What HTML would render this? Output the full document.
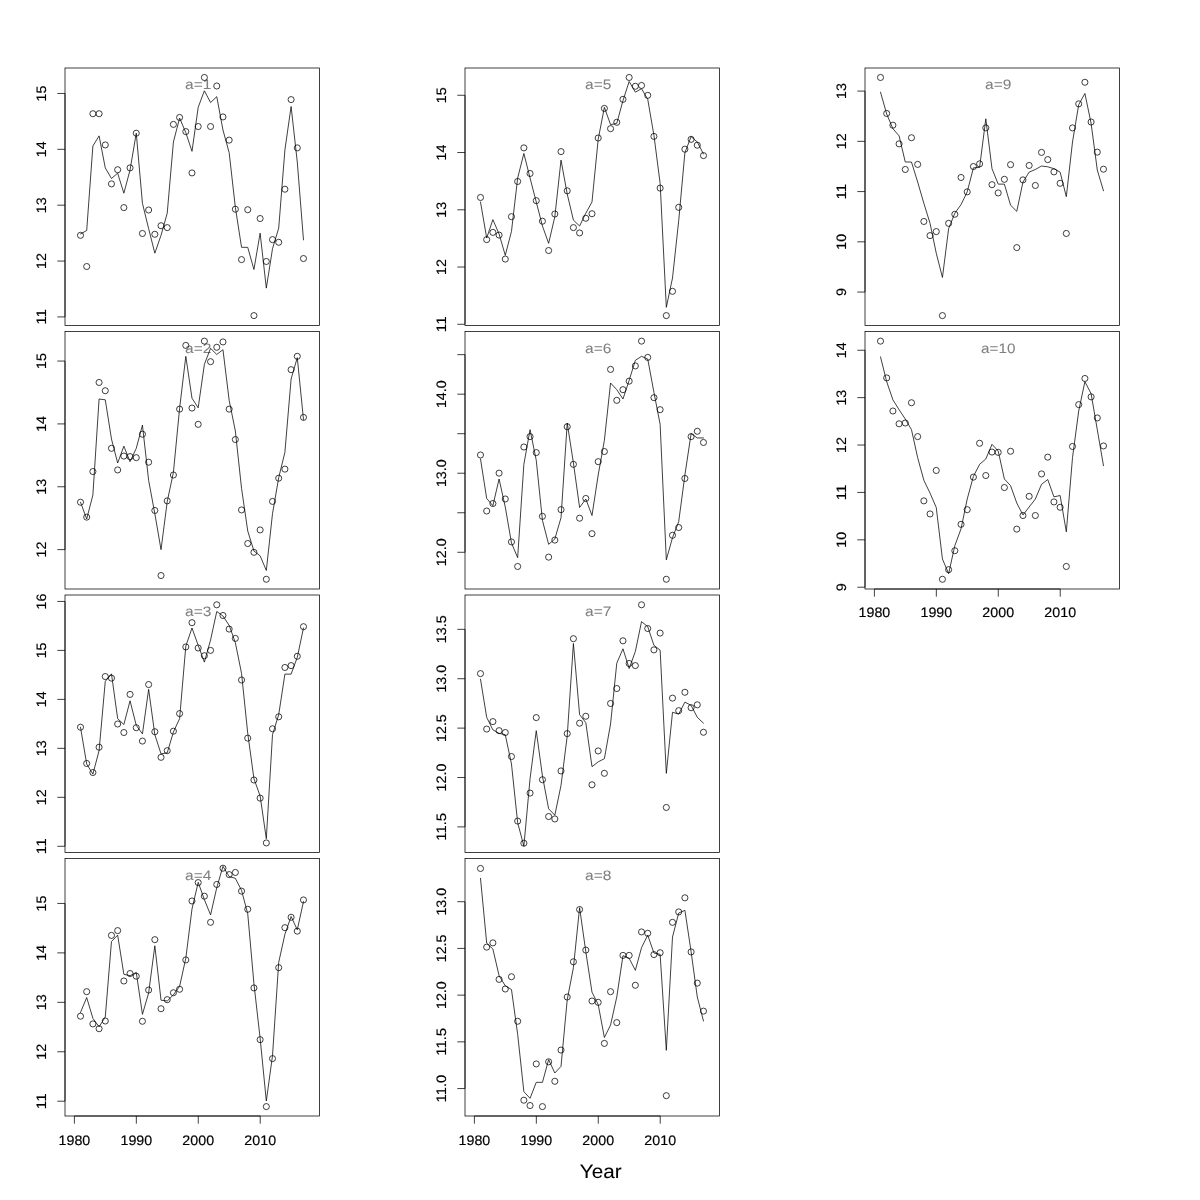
<!DOCTYPE html>
<html><head><meta charset="utf-8"><title>plot</title>
<style>
html,body{margin:0;padding:0;background:#fff;}
svg{display:block;will-change:transform;filter:grayscale(1);}
text{font-family:"Liberation Sans",sans-serif;fill:#000;text-rendering:geometricPrecision;stroke:#000;stroke-width:0.15px;}
.t{font-size:13.70px;}
.g{fill:#7f7f7f;stroke:#7f7f7f;stroke-width:0.04px;}
.p{fill:none;stroke:#000;stroke-width:0.75;}
.l{fill:none;stroke:#000;stroke-width:0.75;stroke-linejoin:round;stroke-linecap:round;}
.b{fill:none;stroke:#000;stroke-width:0.75;}
.a{fill:none;stroke:#000;stroke-width:0.75;}
</style></head><body>

<svg width="1200" height="1200" viewBox="0 0 1200 1200">
<rect width="1200" height="1200" fill="#fff"/>
<g>
<rect class="b" x="65.00" y="68.00" width="254.50" height="257.50"/>
<path class="a" d="M65.00 93.46V316.92M65.00 93.46H57.32M65.00 149.32H57.32M65.00 205.19H57.32M65.00 261.06H57.32M65.00 316.92H57.32"/>
<text class="t" text-anchor="middle" textLength="15.9" lengthAdjust="spacingAndGlyphs" transform="translate(45.50 93.46) rotate(-90)">15</text>
<text class="t" text-anchor="middle" textLength="15.9" lengthAdjust="spacingAndGlyphs" transform="translate(45.50 149.32) rotate(-90)">14</text>
<text class="t" text-anchor="middle" textLength="15.9" lengthAdjust="spacingAndGlyphs" transform="translate(45.50 205.19) rotate(-90)">13</text>
<text class="t" text-anchor="middle" textLength="15.9" lengthAdjust="spacingAndGlyphs" transform="translate(45.50 261.06) rotate(-90)">12</text>
<text class="t" text-anchor="middle" textLength="15.9" lengthAdjust="spacingAndGlyphs" transform="translate(45.50 316.92) rotate(-90)">11</text>
<text class="t g" text-anchor="middle" textLength="26.3" lengthAdjust="spacingAndGlyphs" x="198.28" y="88.80">a=1</text>
<polyline class="l" points="80.50,234.00 86.69,230.53 92.89,146.00 99.08,135.87 105.28,167.87 111.47,178.53 117.66,173.20 123.86,193.20 130.05,170.00 136.25,133.20 142.44,203.33 148.63,228.67 154.83,253.20 161.02,235.33 167.22,213.20 173.41,142.00 179.60,118.00 185.80,132.67 191.99,151.33 198.19,107.33 204.38,90.80 210.57,102.53 216.77,96.67 222.96,130.00 229.16,152.67 235.35,207.33 241.54,247.33 247.74,247.33 253.93,269.47 260.13,233.20 266.32,288.13 272.51,248.67 278.71,228.13 284.90,150.00 291.10,106.53 297.29,162.00 303.48,239.87"/>
<path class="p" d="M77.45 235.33a3.05 3.05 0 1 0 6.10 0a3.05 3.05 0 1 0 -6.10 0M83.64 266.53a3.05 3.05 0 1 0 6.10 0a3.05 3.05 0 1 0 -6.10 0M89.84 113.73a3.05 3.05 0 1 0 6.10 0a3.05 3.05 0 1 0 -6.10 0M96.03 113.73a3.05 3.05 0 1 0 6.10 0a3.05 3.05 0 1 0 -6.10 0M102.23 144.93a3.05 3.05 0 1 0 6.10 0a3.05 3.05 0 1 0 -6.10 0M108.42 183.87a3.05 3.05 0 1 0 6.10 0a3.05 3.05 0 1 0 -6.10 0M114.61 169.73a3.05 3.05 0 1 0 6.10 0a3.05 3.05 0 1 0 -6.10 0M120.81 207.60a3.05 3.05 0 1 0 6.10 0a3.05 3.05 0 1 0 -6.10 0M127.00 167.87a3.05 3.05 0 1 0 6.10 0a3.05 3.05 0 1 0 -6.10 0M133.20 133.20a3.05 3.05 0 1 0 6.10 0a3.05 3.05 0 1 0 -6.10 0M139.39 233.47a3.05 3.05 0 1 0 6.10 0a3.05 3.05 0 1 0 -6.10 0M145.58 210.00a3.05 3.05 0 1 0 6.10 0a3.05 3.05 0 1 0 -6.10 0M151.78 234.27a3.05 3.05 0 1 0 6.10 0a3.05 3.05 0 1 0 -6.10 0M157.97 225.73a3.05 3.05 0 1 0 6.10 0a3.05 3.05 0 1 0 -6.10 0M164.17 227.60a3.05 3.05 0 1 0 6.10 0a3.05 3.05 0 1 0 -6.10 0M170.36 124.40a3.05 3.05 0 1 0 6.10 0a3.05 3.05 0 1 0 -6.10 0M176.55 117.47a3.05 3.05 0 1 0 6.10 0a3.05 3.05 0 1 0 -6.10 0M182.75 131.60a3.05 3.05 0 1 0 6.10 0a3.05 3.05 0 1 0 -6.10 0M188.94 172.93a3.05 3.05 0 1 0 6.10 0a3.05 3.05 0 1 0 -6.10 0M195.14 126.53a3.05 3.05 0 1 0 6.10 0a3.05 3.05 0 1 0 -6.10 0M201.33 77.47a3.05 3.05 0 1 0 6.10 0a3.05 3.05 0 1 0 -6.10 0M207.52 126.53a3.05 3.05 0 1 0 6.10 0a3.05 3.05 0 1 0 -6.10 0M213.72 86.00a3.05 3.05 0 1 0 6.10 0a3.05 3.05 0 1 0 -6.10 0M219.91 116.93a3.05 3.05 0 1 0 6.10 0a3.05 3.05 0 1 0 -6.10 0M226.11 140.13a3.05 3.05 0 1 0 6.10 0a3.05 3.05 0 1 0 -6.10 0M232.30 209.20a3.05 3.05 0 1 0 6.10 0a3.05 3.05 0 1 0 -6.10 0M238.49 259.60a3.05 3.05 0 1 0 6.10 0a3.05 3.05 0 1 0 -6.10 0M244.69 209.73a3.05 3.05 0 1 0 6.10 0a3.05 3.05 0 1 0 -6.10 0M250.88 315.60a3.05 3.05 0 1 0 6.10 0a3.05 3.05 0 1 0 -6.10 0M257.08 218.53a3.05 3.05 0 1 0 6.10 0a3.05 3.05 0 1 0 -6.10 0M263.27 261.47a3.05 3.05 0 1 0 6.10 0a3.05 3.05 0 1 0 -6.10 0M269.46 239.60a3.05 3.05 0 1 0 6.10 0a3.05 3.05 0 1 0 -6.10 0M275.66 242.27a3.05 3.05 0 1 0 6.10 0a3.05 3.05 0 1 0 -6.10 0M281.85 189.20a3.05 3.05 0 1 0 6.10 0a3.05 3.05 0 1 0 -6.10 0M288.05 99.60a3.05 3.05 0 1 0 6.10 0a3.05 3.05 0 1 0 -6.10 0M294.24 147.87a3.05 3.05 0 1 0 6.10 0a3.05 3.05 0 1 0 -6.10 0M300.43 258.53a3.05 3.05 0 1 0 6.10 0a3.05 3.05 0 1 0 -6.10 0"/>
</g>
<g>
<rect class="b" x="65.00" y="331.50" width="254.50" height="257.50"/>
<path class="a" d="M65.00 361.05V549.61M65.00 361.05H57.32M65.00 423.91H57.32M65.00 486.76H57.32M65.00 549.61H57.32"/>
<text class="t" text-anchor="middle" textLength="15.9" lengthAdjust="spacingAndGlyphs" transform="translate(45.50 361.05) rotate(-90)">15</text>
<text class="t" text-anchor="middle" textLength="15.9" lengthAdjust="spacingAndGlyphs" transform="translate(45.50 423.91) rotate(-90)">14</text>
<text class="t" text-anchor="middle" textLength="15.9" lengthAdjust="spacingAndGlyphs" transform="translate(45.50 486.76) rotate(-90)">13</text>
<text class="t" text-anchor="middle" textLength="15.9" lengthAdjust="spacingAndGlyphs" transform="translate(45.50 549.61) rotate(-90)">12</text>
<text class="t g" text-anchor="middle" textLength="26.3" lengthAdjust="spacingAndGlyphs" x="198.28" y="352.90">a=2</text>
<polyline class="l" points="80.50,502.20 86.69,519.00 92.89,495.00 99.08,399.00 105.28,399.80 111.47,439.00 117.66,463.00 123.86,446.20 130.05,461.67 136.25,448.33 142.44,425.13 148.63,480.33 154.83,513.67 161.02,549.67 167.22,501.67 173.41,472.33 179.60,408.33 185.80,356.33 191.99,398.20 198.19,407.80 204.38,364.33 210.57,348.33 216.77,354.47 222.96,349.67 229.16,400.33 235.35,431.00 241.54,488.33 247.74,531.00 253.93,551.00 260.13,555.80 266.32,570.47 272.51,513.67 278.71,477.67 284.90,452.33 291.10,379.00 297.29,357.67 303.48,419.53"/>
<path class="p" d="M77.45 502.20a3.05 3.05 0 1 0 6.10 0a3.05 3.05 0 1 0 -6.10 0M83.64 517.13a3.05 3.05 0 1 0 6.10 0a3.05 3.05 0 1 0 -6.10 0M89.84 471.53a3.05 3.05 0 1 0 6.10 0a3.05 3.05 0 1 0 -6.10 0M96.03 382.47a3.05 3.05 0 1 0 6.10 0a3.05 3.05 0 1 0 -6.10 0M102.23 390.73a3.05 3.05 0 1 0 6.10 0a3.05 3.05 0 1 0 -6.10 0M108.42 448.33a3.05 3.05 0 1 0 6.10 0a3.05 3.05 0 1 0 -6.10 0M114.61 469.93a3.05 3.05 0 1 0 6.10 0a3.05 3.05 0 1 0 -6.10 0M120.81 456.07a3.05 3.05 0 1 0 6.10 0a3.05 3.05 0 1 0 -6.10 0M127.00 456.60a3.05 3.05 0 1 0 6.10 0a3.05 3.05 0 1 0 -6.10 0M133.20 457.67a3.05 3.05 0 1 0 6.10 0a3.05 3.05 0 1 0 -6.10 0M139.39 434.20a3.05 3.05 0 1 0 6.10 0a3.05 3.05 0 1 0 -6.10 0M145.58 462.20a3.05 3.05 0 1 0 6.10 0a3.05 3.05 0 1 0 -6.10 0M151.78 510.47a3.05 3.05 0 1 0 6.10 0a3.05 3.05 0 1 0 -6.10 0M157.97 575.53a3.05 3.05 0 1 0 6.10 0a3.05 3.05 0 1 0 -6.10 0M164.17 500.87a3.05 3.05 0 1 0 6.10 0a3.05 3.05 0 1 0 -6.10 0M170.36 475.00a3.05 3.05 0 1 0 6.10 0a3.05 3.05 0 1 0 -6.10 0M176.55 409.13a3.05 3.05 0 1 0 6.10 0a3.05 3.05 0 1 0 -6.10 0M182.75 345.40a3.05 3.05 0 1 0 6.10 0a3.05 3.05 0 1 0 -6.10 0M188.94 408.07a3.05 3.05 0 1 0 6.10 0a3.05 3.05 0 1 0 -6.10 0M195.14 424.33a3.05 3.05 0 1 0 6.10 0a3.05 3.05 0 1 0 -6.10 0M201.33 341.13a3.05 3.05 0 1 0 6.10 0a3.05 3.05 0 1 0 -6.10 0M207.52 361.67a3.05 3.05 0 1 0 6.10 0a3.05 3.05 0 1 0 -6.10 0M213.72 347.27a3.05 3.05 0 1 0 6.10 0a3.05 3.05 0 1 0 -6.10 0M219.91 341.93a3.05 3.05 0 1 0 6.10 0a3.05 3.05 0 1 0 -6.10 0M226.11 409.13a3.05 3.05 0 1 0 6.10 0a3.05 3.05 0 1 0 -6.10 0M232.30 439.53a3.05 3.05 0 1 0 6.10 0a3.05 3.05 0 1 0 -6.10 0M238.49 509.93a3.05 3.05 0 1 0 6.10 0a3.05 3.05 0 1 0 -6.10 0M244.69 543.53a3.05 3.05 0 1 0 6.10 0a3.05 3.05 0 1 0 -6.10 0M250.88 552.33a3.05 3.05 0 1 0 6.10 0a3.05 3.05 0 1 0 -6.10 0M257.08 529.93a3.05 3.05 0 1 0 6.10 0a3.05 3.05 0 1 0 -6.10 0M263.27 579.27a3.05 3.05 0 1 0 6.10 0a3.05 3.05 0 1 0 -6.10 0M269.46 501.40a3.05 3.05 0 1 0 6.10 0a3.05 3.05 0 1 0 -6.10 0M275.66 478.20a3.05 3.05 0 1 0 6.10 0a3.05 3.05 0 1 0 -6.10 0M281.85 469.13a3.05 3.05 0 1 0 6.10 0a3.05 3.05 0 1 0 -6.10 0M288.05 369.67a3.05 3.05 0 1 0 6.10 0a3.05 3.05 0 1 0 -6.10 0M294.24 356.33a3.05 3.05 0 1 0 6.10 0a3.05 3.05 0 1 0 -6.10 0M300.43 417.40a3.05 3.05 0 1 0 6.10 0a3.05 3.05 0 1 0 -6.10 0"/>
</g>
<g>
<rect class="b" x="65.00" y="595.00" width="254.50" height="257.50"/>
<path class="a" d="M65.00 601.45V846.29M65.00 601.45H57.32M65.00 650.42H57.32M65.00 699.38H57.32M65.00 748.35H57.32M65.00 797.32H57.32M65.00 846.29H57.32"/>
<text class="t" text-anchor="middle" textLength="15.9" lengthAdjust="spacingAndGlyphs" transform="translate(45.50 601.45) rotate(-90)">16</text>
<text class="t" text-anchor="middle" textLength="15.9" lengthAdjust="spacingAndGlyphs" transform="translate(45.50 650.42) rotate(-90)">15</text>
<text class="t" text-anchor="middle" textLength="15.9" lengthAdjust="spacingAndGlyphs" transform="translate(45.50 699.38) rotate(-90)">14</text>
<text class="t" text-anchor="middle" textLength="15.9" lengthAdjust="spacingAndGlyphs" transform="translate(45.50 748.35) rotate(-90)">13</text>
<text class="t" text-anchor="middle" textLength="15.9" lengthAdjust="spacingAndGlyphs" transform="translate(45.50 797.32) rotate(-90)">12</text>
<text class="t" text-anchor="middle" textLength="15.9" lengthAdjust="spacingAndGlyphs" transform="translate(45.50 846.29) rotate(-90)">11</text>
<text class="t g" text-anchor="middle" textLength="26.3" lengthAdjust="spacingAndGlyphs" x="198.28" y="615.80">a=3</text>
<polyline class="l" points="80.50,727.20 86.69,764.00 92.89,774.13 99.08,750.67 105.28,681.33 111.47,673.87 117.66,718.67 123.86,724.53 130.05,700.80 136.25,725.33 142.44,733.87 148.63,689.33 154.83,734.67 161.02,753.87 167.22,752.80 173.41,732.00 179.60,718.67 185.80,646.13 191.99,628.00 198.19,645.33 204.38,662.13 210.57,640.00 216.77,611.47 222.96,616.00 229.16,625.33 235.35,642.67 241.54,673.33 247.74,733.33 253.93,778.67 260.13,796.00 266.32,838.67 272.51,734.67 278.71,714.67 284.90,674.13 291.10,674.13 297.29,657.33 303.48,628.00"/>
<path class="p" d="M77.45 727.20a3.05 3.05 0 1 0 6.10 0a3.05 3.05 0 1 0 -6.10 0M83.64 763.47a3.05 3.05 0 1 0 6.10 0a3.05 3.05 0 1 0 -6.10 0M89.84 772.53a3.05 3.05 0 1 0 6.10 0a3.05 3.05 0 1 0 -6.10 0M96.03 747.20a3.05 3.05 0 1 0 6.10 0a3.05 3.05 0 1 0 -6.10 0M102.23 676.53a3.05 3.05 0 1 0 6.10 0a3.05 3.05 0 1 0 -6.10 0M108.42 678.13a3.05 3.05 0 1 0 6.10 0a3.05 3.05 0 1 0 -6.10 0M114.61 724.00a3.05 3.05 0 1 0 6.10 0a3.05 3.05 0 1 0 -6.10 0M120.81 732.53a3.05 3.05 0 1 0 6.10 0a3.05 3.05 0 1 0 -6.10 0M127.00 694.40a3.05 3.05 0 1 0 6.10 0a3.05 3.05 0 1 0 -6.10 0M133.20 727.73a3.05 3.05 0 1 0 6.10 0a3.05 3.05 0 1 0 -6.10 0M139.39 741.07a3.05 3.05 0 1 0 6.10 0a3.05 3.05 0 1 0 -6.10 0M145.58 684.53a3.05 3.05 0 1 0 6.10 0a3.05 3.05 0 1 0 -6.10 0M151.78 731.73a3.05 3.05 0 1 0 6.10 0a3.05 3.05 0 1 0 -6.10 0M157.97 757.33a3.05 3.05 0 1 0 6.10 0a3.05 3.05 0 1 0 -6.10 0M164.17 750.67a3.05 3.05 0 1 0 6.10 0a3.05 3.05 0 1 0 -6.10 0M170.36 731.20a3.05 3.05 0 1 0 6.10 0a3.05 3.05 0 1 0 -6.10 0M176.55 713.60a3.05 3.05 0 1 0 6.10 0a3.05 3.05 0 1 0 -6.10 0M182.75 646.93a3.05 3.05 0 1 0 6.10 0a3.05 3.05 0 1 0 -6.10 0M188.94 622.67a3.05 3.05 0 1 0 6.10 0a3.05 3.05 0 1 0 -6.10 0M195.14 648.00a3.05 3.05 0 1 0 6.10 0a3.05 3.05 0 1 0 -6.10 0M201.33 655.73a3.05 3.05 0 1 0 6.10 0a3.05 3.05 0 1 0 -6.10 0M207.52 650.40a3.05 3.05 0 1 0 6.10 0a3.05 3.05 0 1 0 -6.10 0M213.72 604.80a3.05 3.05 0 1 0 6.10 0a3.05 3.05 0 1 0 -6.10 0M219.91 615.47a3.05 3.05 0 1 0 6.10 0a3.05 3.05 0 1 0 -6.10 0M226.11 629.07a3.05 3.05 0 1 0 6.10 0a3.05 3.05 0 1 0 -6.10 0M232.30 638.40a3.05 3.05 0 1 0 6.10 0a3.05 3.05 0 1 0 -6.10 0M238.49 680.00a3.05 3.05 0 1 0 6.10 0a3.05 3.05 0 1 0 -6.10 0M244.69 738.13a3.05 3.05 0 1 0 6.10 0a3.05 3.05 0 1 0 -6.10 0M250.88 780.00a3.05 3.05 0 1 0 6.10 0a3.05 3.05 0 1 0 -6.10 0M257.08 798.13a3.05 3.05 0 1 0 6.10 0a3.05 3.05 0 1 0 -6.10 0M263.27 842.93a3.05 3.05 0 1 0 6.10 0a3.05 3.05 0 1 0 -6.10 0M269.46 728.80a3.05 3.05 0 1 0 6.10 0a3.05 3.05 0 1 0 -6.10 0M275.66 716.80a3.05 3.05 0 1 0 6.10 0a3.05 3.05 0 1 0 -6.10 0M281.85 667.47a3.05 3.05 0 1 0 6.10 0a3.05 3.05 0 1 0 -6.10 0M288.05 665.60a3.05 3.05 0 1 0 6.10 0a3.05 3.05 0 1 0 -6.10 0M294.24 656.27a3.05 3.05 0 1 0 6.10 0a3.05 3.05 0 1 0 -6.10 0M300.43 626.67a3.05 3.05 0 1 0 6.10 0a3.05 3.05 0 1 0 -6.10 0"/>
</g>
<g>
<rect class="b" x="65.00" y="858.50" width="254.50" height="257.50"/>
<path class="a" d="M65.00 903.45V1101.21M65.00 903.45H57.32M65.00 952.89H57.32M65.00 1002.33H57.32M65.00 1051.77H57.32M65.00 1101.21H57.32"/>
<text class="t" text-anchor="middle" textLength="15.9" lengthAdjust="spacingAndGlyphs" transform="translate(45.50 903.45) rotate(-90)">15</text>
<text class="t" text-anchor="middle" textLength="15.9" lengthAdjust="spacingAndGlyphs" transform="translate(45.50 952.89) rotate(-90)">14</text>
<text class="t" text-anchor="middle" textLength="15.9" lengthAdjust="spacingAndGlyphs" transform="translate(45.50 1002.33) rotate(-90)">13</text>
<text class="t" text-anchor="middle" textLength="15.9" lengthAdjust="spacingAndGlyphs" transform="translate(45.50 1051.77) rotate(-90)">12</text>
<text class="t" text-anchor="middle" textLength="15.9" lengthAdjust="spacingAndGlyphs" transform="translate(45.50 1101.21) rotate(-90)">11</text>
<path class="a" d="M74.40 1116.00H260.22M74.40 1116.00V1123.68M136.34 1116.00V1123.68M198.28 1116.00V1123.68M260.22 1116.00V1123.68"/>
<text class="t" text-anchor="middle" textLength="31.8" lengthAdjust="spacingAndGlyphs" x="74.40" y="1144.50">1980</text>
<text class="t" text-anchor="middle" textLength="31.8" lengthAdjust="spacingAndGlyphs" x="136.34" y="1144.50">1990</text>
<text class="t" text-anchor="middle" textLength="31.8" lengthAdjust="spacingAndGlyphs" x="198.28" y="1144.50">2000</text>
<text class="t" text-anchor="middle" textLength="31.8" lengthAdjust="spacingAndGlyphs" x="260.22" y="1144.50">2010</text>
<text class="t g" text-anchor="middle" textLength="26.3" lengthAdjust="spacingAndGlyphs" x="198.28" y="879.90">a=4</text>
<polyline class="l" points="80.50,1012.47 86.69,997.53 92.89,1018.33 99.08,1026.87 105.28,1017.00 111.47,941.53 117.66,935.13 123.86,974.33 130.05,975.67 136.25,972.47 142.44,1014.33 148.63,993.00 154.83,945.80 161.02,1000.20 167.22,1001.00 173.41,994.87 179.60,986.33 185.80,958.33 191.99,909.00 198.19,882.33 204.38,899.67 210.57,914.87 216.77,887.67 222.96,866.33 229.16,876.47 235.35,878.33 241.54,890.33 247.74,913.80 253.93,983.67 260.13,1038.33 266.32,1101.00 272.51,1055.67 278.71,962.33 284.90,934.33 291.10,916.47 297.29,929.80 303.48,901.53"/>
<path class="p" d="M77.45 1016.20a3.05 3.05 0 1 0 6.10 0a3.05 3.05 0 1 0 -6.10 0M83.64 991.67a3.05 3.05 0 1 0 6.10 0a3.05 3.05 0 1 0 -6.10 0M89.84 1023.93a3.05 3.05 0 1 0 6.10 0a3.05 3.05 0 1 0 -6.10 0M96.03 1028.73a3.05 3.05 0 1 0 6.10 0a3.05 3.05 0 1 0 -6.10 0M102.23 1021.00a3.05 3.05 0 1 0 6.10 0a3.05 3.05 0 1 0 -6.10 0M108.42 935.40a3.05 3.05 0 1 0 6.10 0a3.05 3.05 0 1 0 -6.10 0M114.61 930.60a3.05 3.05 0 1 0 6.10 0a3.05 3.05 0 1 0 -6.10 0M120.81 981.00a3.05 3.05 0 1 0 6.10 0a3.05 3.05 0 1 0 -6.10 0M127.00 973.53a3.05 3.05 0 1 0 6.10 0a3.05 3.05 0 1 0 -6.10 0M133.20 976.20a3.05 3.05 0 1 0 6.10 0a3.05 3.05 0 1 0 -6.10 0M139.39 1021.27a3.05 3.05 0 1 0 6.10 0a3.05 3.05 0 1 0 -6.10 0M145.58 990.07a3.05 3.05 0 1 0 6.10 0a3.05 3.05 0 1 0 -6.10 0M151.78 939.67a3.05 3.05 0 1 0 6.10 0a3.05 3.05 0 1 0 -6.10 0M157.97 1008.73a3.05 3.05 0 1 0 6.10 0a3.05 3.05 0 1 0 -6.10 0M164.17 999.67a3.05 3.05 0 1 0 6.10 0a3.05 3.05 0 1 0 -6.10 0M170.36 992.73a3.05 3.05 0 1 0 6.10 0a3.05 3.05 0 1 0 -6.10 0M176.55 989.27a3.05 3.05 0 1 0 6.10 0a3.05 3.05 0 1 0 -6.10 0M182.75 959.93a3.05 3.05 0 1 0 6.10 0a3.05 3.05 0 1 0 -6.10 0M188.94 901.00a3.05 3.05 0 1 0 6.10 0a3.05 3.05 0 1 0 -6.10 0M195.14 882.60a3.05 3.05 0 1 0 6.10 0a3.05 3.05 0 1 0 -6.10 0M201.33 896.20a3.05 3.05 0 1 0 6.10 0a3.05 3.05 0 1 0 -6.10 0M207.52 922.33a3.05 3.05 0 1 0 6.10 0a3.05 3.05 0 1 0 -6.10 0M213.72 884.47a3.05 3.05 0 1 0 6.10 0a3.05 3.05 0 1 0 -6.10 0M219.91 868.20a3.05 3.05 0 1 0 6.10 0a3.05 3.05 0 1 0 -6.10 0M226.11 874.60a3.05 3.05 0 1 0 6.10 0a3.05 3.05 0 1 0 -6.10 0M232.30 872.47a3.05 3.05 0 1 0 6.10 0a3.05 3.05 0 1 0 -6.10 0M238.49 891.13a3.05 3.05 0 1 0 6.10 0a3.05 3.05 0 1 0 -6.10 0M244.69 909.27a3.05 3.05 0 1 0 6.10 0a3.05 3.05 0 1 0 -6.10 0M250.88 987.93a3.05 3.05 0 1 0 6.10 0a3.05 3.05 0 1 0 -6.10 0M257.08 1039.67a3.05 3.05 0 1 0 6.10 0a3.05 3.05 0 1 0 -6.10 0M263.27 1106.60a3.05 3.05 0 1 0 6.10 0a3.05 3.05 0 1 0 -6.10 0M269.46 1058.60a3.05 3.05 0 1 0 6.10 0a3.05 3.05 0 1 0 -6.10 0M275.66 967.67a3.05 3.05 0 1 0 6.10 0a3.05 3.05 0 1 0 -6.10 0M281.85 927.67a3.05 3.05 0 1 0 6.10 0a3.05 3.05 0 1 0 -6.10 0M288.05 917.27a3.05 3.05 0 1 0 6.10 0a3.05 3.05 0 1 0 -6.10 0M294.24 931.13a3.05 3.05 0 1 0 6.10 0a3.05 3.05 0 1 0 -6.10 0M300.43 899.93a3.05 3.05 0 1 0 6.10 0a3.05 3.05 0 1 0 -6.10 0"/>
</g>
<g>
<rect class="b" x="465.00" y="68.00" width="254.50" height="257.50"/>
<path class="a" d="M465.00 95.28V324.29M465.00 95.28H457.32M465.00 152.53H457.32M465.00 209.79H457.32M465.00 267.04H457.32M465.00 324.29H457.32"/>
<text class="t" text-anchor="middle" textLength="15.9" lengthAdjust="spacingAndGlyphs" transform="translate(445.50 95.28) rotate(-90)">15</text>
<text class="t" text-anchor="middle" textLength="15.9" lengthAdjust="spacingAndGlyphs" transform="translate(445.50 152.53) rotate(-90)">14</text>
<text class="t" text-anchor="middle" textLength="15.9" lengthAdjust="spacingAndGlyphs" transform="translate(445.50 209.79) rotate(-90)">13</text>
<text class="t" text-anchor="middle" textLength="15.9" lengthAdjust="spacingAndGlyphs" transform="translate(445.50 267.04) rotate(-90)">12</text>
<text class="t" text-anchor="middle" textLength="15.9" lengthAdjust="spacingAndGlyphs" transform="translate(445.50 324.29) rotate(-90)">11</text>
<text class="t g" text-anchor="middle" textLength="26.3" lengthAdjust="spacingAndGlyphs" x="598.28" y="88.80">a=5</text>
<polyline class="l" points="480.50,202.00 486.69,238.00 492.89,219.60 499.08,234.00 505.28,255.33 511.47,231.33 517.66,178.00 523.86,153.47 530.05,178.00 536.25,202.00 542.44,226.00 548.63,243.33 554.83,216.67 561.02,160.13 567.22,194.00 573.41,220.13 579.60,226.00 585.80,213.20 591.99,202.00 598.19,139.33 604.38,107.33 610.57,124.67 616.77,123.33 622.96,100.67 629.16,81.47 635.35,92.13 641.54,88.67 647.74,99.33 653.93,135.33 660.13,183.33 666.32,307.33 672.51,278.00 678.71,220.67 684.90,152.67 691.10,136.67 697.29,142.00 703.48,154.00"/>
<path class="p" d="M477.45 197.47a3.05 3.05 0 1 0 6.10 0a3.05 3.05 0 1 0 -6.10 0M483.64 239.60a3.05 3.05 0 1 0 6.10 0a3.05 3.05 0 1 0 -6.10 0M489.84 232.40a3.05 3.05 0 1 0 6.10 0a3.05 3.05 0 1 0 -6.10 0M496.03 235.07a3.05 3.05 0 1 0 6.10 0a3.05 3.05 0 1 0 -6.10 0M502.23 259.07a3.05 3.05 0 1 0 6.10 0a3.05 3.05 0 1 0 -6.10 0M508.42 216.67a3.05 3.05 0 1 0 6.10 0a3.05 3.05 0 1 0 -6.10 0M514.61 181.47a3.05 3.05 0 1 0 6.10 0a3.05 3.05 0 1 0 -6.10 0M520.81 147.87a3.05 3.05 0 1 0 6.10 0a3.05 3.05 0 1 0 -6.10 0M527.00 173.47a3.05 3.05 0 1 0 6.10 0a3.05 3.05 0 1 0 -6.10 0M533.20 200.67a3.05 3.05 0 1 0 6.10 0a3.05 3.05 0 1 0 -6.10 0M539.39 221.20a3.05 3.05 0 1 0 6.10 0a3.05 3.05 0 1 0 -6.10 0M545.58 250.53a3.05 3.05 0 1 0 6.10 0a3.05 3.05 0 1 0 -6.10 0M551.78 214.00a3.05 3.05 0 1 0 6.10 0a3.05 3.05 0 1 0 -6.10 0M557.97 151.60a3.05 3.05 0 1 0 6.10 0a3.05 3.05 0 1 0 -6.10 0M564.17 190.80a3.05 3.05 0 1 0 6.10 0a3.05 3.05 0 1 0 -6.10 0M570.36 227.60a3.05 3.05 0 1 0 6.10 0a3.05 3.05 0 1 0 -6.10 0M576.55 232.93a3.05 3.05 0 1 0 6.10 0a3.05 3.05 0 1 0 -6.10 0M582.75 218.27a3.05 3.05 0 1 0 6.10 0a3.05 3.05 0 1 0 -6.10 0M588.94 213.73a3.05 3.05 0 1 0 6.10 0a3.05 3.05 0 1 0 -6.10 0M595.14 138.00a3.05 3.05 0 1 0 6.10 0a3.05 3.05 0 1 0 -6.10 0M601.33 108.40a3.05 3.05 0 1 0 6.10 0a3.05 3.05 0 1 0 -6.10 0M607.52 128.67a3.05 3.05 0 1 0 6.10 0a3.05 3.05 0 1 0 -6.10 0M613.72 122.27a3.05 3.05 0 1 0 6.10 0a3.05 3.05 0 1 0 -6.10 0M619.91 99.33a3.05 3.05 0 1 0 6.10 0a3.05 3.05 0 1 0 -6.10 0M626.11 77.47a3.05 3.05 0 1 0 6.10 0a3.05 3.05 0 1 0 -6.10 0M632.30 86.27a3.05 3.05 0 1 0 6.10 0a3.05 3.05 0 1 0 -6.10 0M638.49 85.47a3.05 3.05 0 1 0 6.10 0a3.05 3.05 0 1 0 -6.10 0M644.69 95.33a3.05 3.05 0 1 0 6.10 0a3.05 3.05 0 1 0 -6.10 0M650.88 136.40a3.05 3.05 0 1 0 6.10 0a3.05 3.05 0 1 0 -6.10 0M657.08 188.13a3.05 3.05 0 1 0 6.10 0a3.05 3.05 0 1 0 -6.10 0M663.27 315.60a3.05 3.05 0 1 0 6.10 0a3.05 3.05 0 1 0 -6.10 0M669.46 291.33a3.05 3.05 0 1 0 6.10 0a3.05 3.05 0 1 0 -6.10 0M675.66 207.33a3.05 3.05 0 1 0 6.10 0a3.05 3.05 0 1 0 -6.10 0M681.85 149.20a3.05 3.05 0 1 0 6.10 0a3.05 3.05 0 1 0 -6.10 0M688.05 139.33a3.05 3.05 0 1 0 6.10 0a3.05 3.05 0 1 0 -6.10 0M694.24 145.20a3.05 3.05 0 1 0 6.10 0a3.05 3.05 0 1 0 -6.10 0M700.43 155.60a3.05 3.05 0 1 0 6.10 0a3.05 3.05 0 1 0 -6.10 0"/>
</g>
<g>
<rect class="b" x="465.00" y="331.50" width="254.50" height="257.50"/>
<path class="a" d="M465.00 354.65V552.29M465.00 354.65H457.32M465.00 394.18H457.32M465.00 433.70H457.32M465.00 473.23H457.32M465.00 512.76H457.32M465.00 552.29H457.32"/>
<text class="t" text-anchor="middle" textLength="27.8" lengthAdjust="spacingAndGlyphs" transform="translate(445.50 394.18) rotate(-90)">14.0</text>
<text class="t" text-anchor="middle" textLength="27.8" lengthAdjust="spacingAndGlyphs" transform="translate(445.50 473.23) rotate(-90)">13.0</text>
<text class="t" text-anchor="middle" textLength="27.8" lengthAdjust="spacingAndGlyphs" transform="translate(445.50 552.29) rotate(-90)">12.0</text>
<text class="t g" text-anchor="middle" textLength="26.3" lengthAdjust="spacingAndGlyphs" x="598.28" y="352.90">a=6</text>
<polyline class="l" points="480.50,459.00 486.69,498.47 492.89,505.67 499.08,479.00 505.28,507.00 511.47,543.00 517.66,557.67 523.86,464.33 530.05,429.67 536.25,460.33 542.44,520.33 548.63,544.33 554.83,539.00 561.02,517.67 567.22,423.00 573.41,463.00 579.60,507.53 585.80,499.00 591.99,515.53 598.19,475.00 604.38,440.33 610.57,383.00 616.77,389.67 622.96,399.00 629.16,380.33 635.35,360.33 641.54,356.33 647.74,359.00 653.93,392.33 660.13,424.33 666.32,559.80 672.51,537.67 678.71,521.67 684.90,475.00 691.10,433.67 697.29,437.93 703.48,437.93"/>
<path class="p" d="M477.45 455.00a3.05 3.05 0 1 0 6.10 0a3.05 3.05 0 1 0 -6.10 0M483.64 511.00a3.05 3.05 0 1 0 6.10 0a3.05 3.05 0 1 0 -6.10 0M489.84 503.53a3.05 3.05 0 1 0 6.10 0a3.05 3.05 0 1 0 -6.10 0M496.03 473.13a3.05 3.05 0 1 0 6.10 0a3.05 3.05 0 1 0 -6.10 0M502.23 499.00a3.05 3.05 0 1 0 6.10 0a3.05 3.05 0 1 0 -6.10 0M508.42 541.93a3.05 3.05 0 1 0 6.10 0a3.05 3.05 0 1 0 -6.10 0M514.61 566.47a3.05 3.05 0 1 0 6.10 0a3.05 3.05 0 1 0 -6.10 0M520.81 447.00a3.05 3.05 0 1 0 6.10 0a3.05 3.05 0 1 0 -6.10 0M527.00 436.60a3.05 3.05 0 1 0 6.10 0a3.05 3.05 0 1 0 -6.10 0M533.20 452.60a3.05 3.05 0 1 0 6.10 0a3.05 3.05 0 1 0 -6.10 0M539.39 516.33a3.05 3.05 0 1 0 6.10 0a3.05 3.05 0 1 0 -6.10 0M545.58 557.13a3.05 3.05 0 1 0 6.10 0a3.05 3.05 0 1 0 -6.10 0M551.78 540.07a3.05 3.05 0 1 0 6.10 0a3.05 3.05 0 1 0 -6.10 0M557.97 509.67a3.05 3.05 0 1 0 6.10 0a3.05 3.05 0 1 0 -6.10 0M564.17 426.73a3.05 3.05 0 1 0 6.10 0a3.05 3.05 0 1 0 -6.10 0M570.36 464.33a3.05 3.05 0 1 0 6.10 0a3.05 3.05 0 1 0 -6.10 0M576.55 518.20a3.05 3.05 0 1 0 6.10 0a3.05 3.05 0 1 0 -6.10 0M582.75 498.47a3.05 3.05 0 1 0 6.10 0a3.05 3.05 0 1 0 -6.10 0M588.94 533.67a3.05 3.05 0 1 0 6.10 0a3.05 3.05 0 1 0 -6.10 0M595.14 461.67a3.05 3.05 0 1 0 6.10 0a3.05 3.05 0 1 0 -6.10 0M601.33 451.53a3.05 3.05 0 1 0 6.10 0a3.05 3.05 0 1 0 -6.10 0M607.52 369.40a3.05 3.05 0 1 0 6.10 0a3.05 3.05 0 1 0 -6.10 0M613.72 400.33a3.05 3.05 0 1 0 6.10 0a3.05 3.05 0 1 0 -6.10 0M619.91 389.67a3.05 3.05 0 1 0 6.10 0a3.05 3.05 0 1 0 -6.10 0M626.11 381.13a3.05 3.05 0 1 0 6.10 0a3.05 3.05 0 1 0 -6.10 0M632.30 365.93a3.05 3.05 0 1 0 6.10 0a3.05 3.05 0 1 0 -6.10 0M638.49 341.13a3.05 3.05 0 1 0 6.10 0a3.05 3.05 0 1 0 -6.10 0M644.69 357.40a3.05 3.05 0 1 0 6.10 0a3.05 3.05 0 1 0 -6.10 0M650.88 397.67a3.05 3.05 0 1 0 6.10 0a3.05 3.05 0 1 0 -6.10 0M657.08 409.67a3.05 3.05 0 1 0 6.10 0a3.05 3.05 0 1 0 -6.10 0M663.27 579.27a3.05 3.05 0 1 0 6.10 0a3.05 3.05 0 1 0 -6.10 0M669.46 535.27a3.05 3.05 0 1 0 6.10 0a3.05 3.05 0 1 0 -6.10 0M675.66 527.53a3.05 3.05 0 1 0 6.10 0a3.05 3.05 0 1 0 -6.10 0M681.85 478.47a3.05 3.05 0 1 0 6.10 0a3.05 3.05 0 1 0 -6.10 0M688.05 436.60a3.05 3.05 0 1 0 6.10 0a3.05 3.05 0 1 0 -6.10 0M694.24 431.27a3.05 3.05 0 1 0 6.10 0a3.05 3.05 0 1 0 -6.10 0M700.43 442.47a3.05 3.05 0 1 0 6.10 0a3.05 3.05 0 1 0 -6.10 0"/>
</g>
<g>
<rect class="b" x="465.00" y="595.00" width="254.50" height="257.50"/>
<path class="a" d="M465.00 629.33V826.88M465.00 629.33H457.32M465.00 678.72H457.32M465.00 728.11H457.32M465.00 777.49H457.32M465.00 826.88H457.32"/>
<text class="t" text-anchor="middle" textLength="27.8" lengthAdjust="spacingAndGlyphs" transform="translate(445.50 629.33) rotate(-90)">13.5</text>
<text class="t" text-anchor="middle" textLength="27.8" lengthAdjust="spacingAndGlyphs" transform="translate(445.50 678.72) rotate(-90)">13.0</text>
<text class="t" text-anchor="middle" textLength="27.8" lengthAdjust="spacingAndGlyphs" transform="translate(445.50 728.11) rotate(-90)">12.5</text>
<text class="t" text-anchor="middle" textLength="27.8" lengthAdjust="spacingAndGlyphs" transform="translate(445.50 777.49) rotate(-90)">12.0</text>
<text class="t" text-anchor="middle" textLength="27.8" lengthAdjust="spacingAndGlyphs" transform="translate(445.50 826.88) rotate(-90)">11.5</text>
<text class="t g" text-anchor="middle" textLength="26.3" lengthAdjust="spacingAndGlyphs" x="598.28" y="615.80">a=7</text>
<polyline class="l" points="480.50,679.20 486.69,717.33 492.89,729.87 499.08,733.33 505.28,734.67 511.47,764.00 517.66,822.67 523.86,846.13 530.05,778.67 536.25,730.67 542.44,776.00 548.63,808.80 554.83,815.20 561.02,785.33 567.22,736.00 573.41,643.47 579.60,714.67 585.80,722.67 591.99,766.67 598.19,761.87 604.38,758.67 610.57,724.00 616.77,663.20 622.96,648.80 629.16,668.53 635.35,651.47 641.54,621.60 647.74,626.67 653.93,645.33 660.13,650.13 666.32,773.33 672.51,712.27 678.71,714.13 684.90,702.13 691.10,705.33 697.29,717.33 703.48,723.20"/>
<path class="p" d="M477.45 673.60a3.05 3.05 0 1 0 6.10 0a3.05 3.05 0 1 0 -6.10 0M483.64 729.07a3.05 3.05 0 1 0 6.10 0a3.05 3.05 0 1 0 -6.10 0M489.84 721.60a3.05 3.05 0 1 0 6.10 0a3.05 3.05 0 1 0 -6.10 0M496.03 730.67a3.05 3.05 0 1 0 6.10 0a3.05 3.05 0 1 0 -6.10 0M502.23 732.53a3.05 3.05 0 1 0 6.10 0a3.05 3.05 0 1 0 -6.10 0M508.42 756.53a3.05 3.05 0 1 0 6.10 0a3.05 3.05 0 1 0 -6.10 0M514.61 821.07a3.05 3.05 0 1 0 6.10 0a3.05 3.05 0 1 0 -6.10 0M520.81 843.20a3.05 3.05 0 1 0 6.10 0a3.05 3.05 0 1 0 -6.10 0M527.00 793.07a3.05 3.05 0 1 0 6.10 0a3.05 3.05 0 1 0 -6.10 0M533.20 717.60a3.05 3.05 0 1 0 6.10 0a3.05 3.05 0 1 0 -6.10 0M539.39 779.73a3.05 3.05 0 1 0 6.10 0a3.05 3.05 0 1 0 -6.10 0M545.58 816.53a3.05 3.05 0 1 0 6.10 0a3.05 3.05 0 1 0 -6.10 0M551.78 818.93a3.05 3.05 0 1 0 6.10 0a3.05 3.05 0 1 0 -6.10 0M557.97 770.93a3.05 3.05 0 1 0 6.10 0a3.05 3.05 0 1 0 -6.10 0M564.17 733.60a3.05 3.05 0 1 0 6.10 0a3.05 3.05 0 1 0 -6.10 0M570.36 638.67a3.05 3.05 0 1 0 6.10 0a3.05 3.05 0 1 0 -6.10 0M576.55 723.20a3.05 3.05 0 1 0 6.10 0a3.05 3.05 0 1 0 -6.10 0M582.75 716.27a3.05 3.05 0 1 0 6.10 0a3.05 3.05 0 1 0 -6.10 0M588.94 784.80a3.05 3.05 0 1 0 6.10 0a3.05 3.05 0 1 0 -6.10 0M595.14 750.93a3.05 3.05 0 1 0 6.10 0a3.05 3.05 0 1 0 -6.10 0M601.33 773.33a3.05 3.05 0 1 0 6.10 0a3.05 3.05 0 1 0 -6.10 0M607.52 703.47a3.05 3.05 0 1 0 6.10 0a3.05 3.05 0 1 0 -6.10 0M613.72 688.53a3.05 3.05 0 1 0 6.10 0a3.05 3.05 0 1 0 -6.10 0M619.91 640.80a3.05 3.05 0 1 0 6.10 0a3.05 3.05 0 1 0 -6.10 0M626.11 663.47a3.05 3.05 0 1 0 6.10 0a3.05 3.05 0 1 0 -6.10 0M632.30 665.60a3.05 3.05 0 1 0 6.10 0a3.05 3.05 0 1 0 -6.10 0M638.49 604.80a3.05 3.05 0 1 0 6.10 0a3.05 3.05 0 1 0 -6.10 0M644.69 628.53a3.05 3.05 0 1 0 6.10 0a3.05 3.05 0 1 0 -6.10 0M650.88 649.87a3.05 3.05 0 1 0 6.10 0a3.05 3.05 0 1 0 -6.10 0M657.08 633.07a3.05 3.05 0 1 0 6.10 0a3.05 3.05 0 1 0 -6.10 0M663.27 807.47a3.05 3.05 0 1 0 6.10 0a3.05 3.05 0 1 0 -6.10 0M669.46 698.13a3.05 3.05 0 1 0 6.10 0a3.05 3.05 0 1 0 -6.10 0M675.66 710.67a3.05 3.05 0 1 0 6.10 0a3.05 3.05 0 1 0 -6.10 0M681.85 692.27a3.05 3.05 0 1 0 6.10 0a3.05 3.05 0 1 0 -6.10 0M688.05 707.73a3.05 3.05 0 1 0 6.10 0a3.05 3.05 0 1 0 -6.10 0M694.24 704.80a3.05 3.05 0 1 0 6.10 0a3.05 3.05 0 1 0 -6.10 0M700.43 732.27a3.05 3.05 0 1 0 6.10 0a3.05 3.05 0 1 0 -6.10 0"/>
</g>
<g>
<rect class="b" x="465.00" y="858.50" width="254.50" height="257.50"/>
<path class="a" d="M465.00 901.69V1088.57M465.00 901.69H457.32M465.00 948.41H457.32M465.00 995.13H457.32M465.00 1041.85H457.32M465.00 1088.57H457.32"/>
<text class="t" text-anchor="middle" textLength="27.8" lengthAdjust="spacingAndGlyphs" transform="translate(445.50 901.69) rotate(-90)">13.0</text>
<text class="t" text-anchor="middle" textLength="27.8" lengthAdjust="spacingAndGlyphs" transform="translate(445.50 948.41) rotate(-90)">12.5</text>
<text class="t" text-anchor="middle" textLength="27.8" lengthAdjust="spacingAndGlyphs" transform="translate(445.50 995.13) rotate(-90)">12.0</text>
<text class="t" text-anchor="middle" textLength="27.8" lengthAdjust="spacingAndGlyphs" transform="translate(445.50 1041.85) rotate(-90)">11.5</text>
<text class="t" text-anchor="middle" textLength="27.8" lengthAdjust="spacingAndGlyphs" transform="translate(445.50 1088.57) rotate(-90)">11.0</text>
<path class="a" d="M474.40 1116.00H660.22M474.40 1116.00V1123.68M536.34 1116.00V1123.68M598.28 1116.00V1123.68M660.22 1116.00V1123.68"/>
<text class="t" text-anchor="middle" textLength="31.8" lengthAdjust="spacingAndGlyphs" x="474.40" y="1144.50">1980</text>
<text class="t" text-anchor="middle" textLength="31.8" lengthAdjust="spacingAndGlyphs" x="536.34" y="1144.50">1990</text>
<text class="t" text-anchor="middle" textLength="31.8" lengthAdjust="spacingAndGlyphs" x="598.28" y="1144.50">2000</text>
<text class="t" text-anchor="middle" textLength="31.8" lengthAdjust="spacingAndGlyphs" x="660.22" y="1144.50">2010</text>
<text class="t g" text-anchor="middle" textLength="26.3" lengthAdjust="spacingAndGlyphs" x="598.28" y="879.90">a=8</text>
<polyline class="l" points="480.50,878.33 486.69,943.13 492.89,949.00 499.08,975.67 505.28,985.80 511.47,989.53 517.66,1034.33 523.86,1091.67 530.05,1098.33 536.25,1082.33 542.44,1082.33 548.63,1059.67 554.83,1073.00 561.02,1066.33 567.22,999.67 573.41,967.67 579.60,907.67 585.80,951.67 591.99,992.20 598.19,1004.47 604.38,1037.53 610.57,1025.00 616.77,997.00 622.96,955.67 629.16,958.33 635.35,970.33 641.54,947.67 647.74,935.13 653.93,953.00 660.13,954.33 666.32,1050.33 672.51,937.00 678.71,913.00 684.90,910.33 691.10,951.67 697.29,997.00 703.48,1021.00"/>
<path class="p" d="M477.45 868.47a3.05 3.05 0 1 0 6.10 0a3.05 3.05 0 1 0 -6.10 0M483.64 947.13a3.05 3.05 0 1 0 6.10 0a3.05 3.05 0 1 0 -6.10 0M489.84 942.87a3.05 3.05 0 1 0 6.10 0a3.05 3.05 0 1 0 -6.10 0M496.03 979.40a3.05 3.05 0 1 0 6.10 0a3.05 3.05 0 1 0 -6.10 0M502.23 989.00a3.05 3.05 0 1 0 6.10 0a3.05 3.05 0 1 0 -6.10 0M508.42 976.73a3.05 3.05 0 1 0 6.10 0a3.05 3.05 0 1 0 -6.10 0M514.61 1021.27a3.05 3.05 0 1 0 6.10 0a3.05 3.05 0 1 0 -6.10 0M520.81 1100.20a3.05 3.05 0 1 0 6.10 0a3.05 3.05 0 1 0 -6.10 0M527.00 1105.53a3.05 3.05 0 1 0 6.10 0a3.05 3.05 0 1 0 -6.10 0M533.20 1063.93a3.05 3.05 0 1 0 6.10 0a3.05 3.05 0 1 0 -6.10 0M539.39 1106.60a3.05 3.05 0 1 0 6.10 0a3.05 3.05 0 1 0 -6.10 0M545.58 1061.80a3.05 3.05 0 1 0 6.10 0a3.05 3.05 0 1 0 -6.10 0M551.78 1081.27a3.05 3.05 0 1 0 6.10 0a3.05 3.05 0 1 0 -6.10 0M557.97 1050.07a3.05 3.05 0 1 0 6.10 0a3.05 3.05 0 1 0 -6.10 0M564.17 997.00a3.05 3.05 0 1 0 6.10 0a3.05 3.05 0 1 0 -6.10 0M570.36 961.80a3.05 3.05 0 1 0 6.10 0a3.05 3.05 0 1 0 -6.10 0M576.55 909.53a3.05 3.05 0 1 0 6.10 0a3.05 3.05 0 1 0 -6.10 0M582.75 950.07a3.05 3.05 0 1 0 6.10 0a3.05 3.05 0 1 0 -6.10 0M588.94 1001.00a3.05 3.05 0 1 0 6.10 0a3.05 3.05 0 1 0 -6.10 0M595.14 1002.33a3.05 3.05 0 1 0 6.10 0a3.05 3.05 0 1 0 -6.10 0M601.33 1043.40a3.05 3.05 0 1 0 6.10 0a3.05 3.05 0 1 0 -6.10 0M607.52 991.67a3.05 3.05 0 1 0 6.10 0a3.05 3.05 0 1 0 -6.10 0M613.72 1022.60a3.05 3.05 0 1 0 6.10 0a3.05 3.05 0 1 0 -6.10 0M619.91 955.40a3.05 3.05 0 1 0 6.10 0a3.05 3.05 0 1 0 -6.10 0M626.11 955.40a3.05 3.05 0 1 0 6.10 0a3.05 3.05 0 1 0 -6.10 0M632.30 985.27a3.05 3.05 0 1 0 6.10 0a3.05 3.05 0 1 0 -6.10 0M638.49 931.93a3.05 3.05 0 1 0 6.10 0a3.05 3.05 0 1 0 -6.10 0M644.69 933.27a3.05 3.05 0 1 0 6.10 0a3.05 3.05 0 1 0 -6.10 0M650.88 954.60a3.05 3.05 0 1 0 6.10 0a3.05 3.05 0 1 0 -6.10 0M657.08 952.73a3.05 3.05 0 1 0 6.10 0a3.05 3.05 0 1 0 -6.10 0M663.27 1095.67a3.05 3.05 0 1 0 6.10 0a3.05 3.05 0 1 0 -6.10 0M669.46 922.33a3.05 3.05 0 1 0 6.10 0a3.05 3.05 0 1 0 -6.10 0M675.66 911.93a3.05 3.05 0 1 0 6.10 0a3.05 3.05 0 1 0 -6.10 0M681.85 897.80a3.05 3.05 0 1 0 6.10 0a3.05 3.05 0 1 0 -6.10 0M688.05 951.93a3.05 3.05 0 1 0 6.10 0a3.05 3.05 0 1 0 -6.10 0M694.24 983.13a3.05 3.05 0 1 0 6.10 0a3.05 3.05 0 1 0 -6.10 0M700.43 1011.13a3.05 3.05 0 1 0 6.10 0a3.05 3.05 0 1 0 -6.10 0"/>
</g>
<g>
<rect class="b" x="865.00" y="68.00" width="254.50" height="257.50"/>
<path class="a" d="M865.00 91.10V292.06M865.00 91.10H857.32M865.00 141.34H857.32M865.00 191.58H857.32M865.00 241.82H857.32M865.00 292.06H857.32"/>
<text class="t" text-anchor="middle" textLength="15.9" lengthAdjust="spacingAndGlyphs" transform="translate(845.50 91.10) rotate(-90)">13</text>
<text class="t" text-anchor="middle" textLength="15.9" lengthAdjust="spacingAndGlyphs" transform="translate(845.50 141.34) rotate(-90)">12</text>
<text class="t" text-anchor="middle" textLength="15.9" lengthAdjust="spacingAndGlyphs" transform="translate(845.50 191.58) rotate(-90)">11</text>
<text class="t" text-anchor="middle" textLength="15.9" lengthAdjust="spacingAndGlyphs" transform="translate(845.50 241.82) rotate(-90)">10</text>
<text class="t" text-anchor="middle" textLength="8.0" lengthAdjust="spacingAndGlyphs" transform="translate(845.50 292.06) rotate(-90)">9</text>
<text class="t g" text-anchor="middle" textLength="26.3" lengthAdjust="spacingAndGlyphs" x="998.28" y="88.80">a=9</text>
<polyline class="l" points="880.50,92.13 886.69,114.00 892.89,128.67 899.08,135.87 905.28,162.00 911.47,162.00 917.66,182.00 923.86,203.33 930.05,223.33 936.25,253.20 942.44,277.47 948.63,228.67 954.83,213.20 961.02,204.67 967.22,191.87 973.41,167.87 979.60,167.33 985.80,118.80 991.99,168.67 998.19,184.13 1004.38,184.13 1010.57,205.20 1016.77,211.33 1022.96,182.00 1029.16,172.13 1035.35,169.47 1041.54,166.00 1047.74,166.80 1053.93,168.67 1060.13,172.13 1066.32,196.67 1072.51,142.00 1078.71,104.67 1084.90,93.47 1091.10,123.33 1097.29,170.00 1103.48,190.80"/>
<path class="p" d="M877.45 77.47a3.05 3.05 0 1 0 6.10 0a3.05 3.05 0 1 0 -6.10 0M883.64 113.47a3.05 3.05 0 1 0 6.10 0a3.05 3.05 0 1 0 -6.10 0M889.84 125.20a3.05 3.05 0 1 0 6.10 0a3.05 3.05 0 1 0 -6.10 0M896.03 143.87a3.05 3.05 0 1 0 6.10 0a3.05 3.05 0 1 0 -6.10 0M902.23 169.47a3.05 3.05 0 1 0 6.10 0a3.05 3.05 0 1 0 -6.10 0M908.42 137.73a3.05 3.05 0 1 0 6.10 0a3.05 3.05 0 1 0 -6.10 0M914.61 164.40a3.05 3.05 0 1 0 6.10 0a3.05 3.05 0 1 0 -6.10 0M920.81 221.47a3.05 3.05 0 1 0 6.10 0a3.05 3.05 0 1 0 -6.10 0M927.00 235.60a3.05 3.05 0 1 0 6.10 0a3.05 3.05 0 1 0 -6.10 0M933.20 231.60a3.05 3.05 0 1 0 6.10 0a3.05 3.05 0 1 0 -6.10 0M939.39 315.60a3.05 3.05 0 1 0 6.10 0a3.05 3.05 0 1 0 -6.10 0M945.58 223.33a3.05 3.05 0 1 0 6.10 0a3.05 3.05 0 1 0 -6.10 0M951.78 214.27a3.05 3.05 0 1 0 6.10 0a3.05 3.05 0 1 0 -6.10 0M957.97 177.47a3.05 3.05 0 1 0 6.10 0a3.05 3.05 0 1 0 -6.10 0M964.17 191.87a3.05 3.05 0 1 0 6.10 0a3.05 3.05 0 1 0 -6.10 0M970.36 166.53a3.05 3.05 0 1 0 6.10 0a3.05 3.05 0 1 0 -6.10 0M976.55 163.87a3.05 3.05 0 1 0 6.10 0a3.05 3.05 0 1 0 -6.10 0M982.75 127.87a3.05 3.05 0 1 0 6.10 0a3.05 3.05 0 1 0 -6.10 0M988.94 184.67a3.05 3.05 0 1 0 6.10 0a3.05 3.05 0 1 0 -6.10 0M995.14 192.93a3.05 3.05 0 1 0 6.10 0a3.05 3.05 0 1 0 -6.10 0M1001.33 179.33a3.05 3.05 0 1 0 6.10 0a3.05 3.05 0 1 0 -6.10 0M1007.52 164.67a3.05 3.05 0 1 0 6.10 0a3.05 3.05 0 1 0 -6.10 0M1013.72 247.60a3.05 3.05 0 1 0 6.10 0a3.05 3.05 0 1 0 -6.10 0M1019.91 179.87a3.05 3.05 0 1 0 6.10 0a3.05 3.05 0 1 0 -6.10 0M1026.11 165.47a3.05 3.05 0 1 0 6.10 0a3.05 3.05 0 1 0 -6.10 0M1032.30 185.47a3.05 3.05 0 1 0 6.10 0a3.05 3.05 0 1 0 -6.10 0M1038.49 152.40a3.05 3.05 0 1 0 6.10 0a3.05 3.05 0 1 0 -6.10 0M1044.69 159.60a3.05 3.05 0 1 0 6.10 0a3.05 3.05 0 1 0 -6.10 0M1050.88 171.87a3.05 3.05 0 1 0 6.10 0a3.05 3.05 0 1 0 -6.10 0M1057.08 183.33a3.05 3.05 0 1 0 6.10 0a3.05 3.05 0 1 0 -6.10 0M1063.27 233.47a3.05 3.05 0 1 0 6.10 0a3.05 3.05 0 1 0 -6.10 0M1069.46 127.87a3.05 3.05 0 1 0 6.10 0a3.05 3.05 0 1 0 -6.10 0M1075.66 103.87a3.05 3.05 0 1 0 6.10 0a3.05 3.05 0 1 0 -6.10 0M1081.85 82.27a3.05 3.05 0 1 0 6.10 0a3.05 3.05 0 1 0 -6.10 0M1088.05 122.00a3.05 3.05 0 1 0 6.10 0a3.05 3.05 0 1 0 -6.10 0M1094.24 152.13a3.05 3.05 0 1 0 6.10 0a3.05 3.05 0 1 0 -6.10 0M1100.43 169.20a3.05 3.05 0 1 0 6.10 0a3.05 3.05 0 1 0 -6.10 0"/>
</g>
<g>
<rect class="b" x="865.00" y="331.50" width="254.50" height="257.50"/>
<path class="a" d="M865.00 350.24V587.23M865.00 350.24H857.32M865.00 397.64H857.32M865.00 445.03H857.32M865.00 492.43H857.32M865.00 539.83H857.32M865.00 587.23H857.32"/>
<text class="t" text-anchor="middle" textLength="15.9" lengthAdjust="spacingAndGlyphs" transform="translate(845.50 350.24) rotate(-90)">14</text>
<text class="t" text-anchor="middle" textLength="15.9" lengthAdjust="spacingAndGlyphs" transform="translate(845.50 397.64) rotate(-90)">13</text>
<text class="t" text-anchor="middle" textLength="15.9" lengthAdjust="spacingAndGlyphs" transform="translate(845.50 445.03) rotate(-90)">12</text>
<text class="t" text-anchor="middle" textLength="15.9" lengthAdjust="spacingAndGlyphs" transform="translate(845.50 492.43) rotate(-90)">11</text>
<text class="t" text-anchor="middle" textLength="15.9" lengthAdjust="spacingAndGlyphs" transform="translate(845.50 539.83) rotate(-90)">10</text>
<text class="t" text-anchor="middle" textLength="8.0" lengthAdjust="spacingAndGlyphs" transform="translate(845.50 587.23) rotate(-90)">9</text>
<path class="a" d="M874.40 589.00H1060.22M874.40 589.00V596.68M936.34 589.00V596.68M998.28 589.00V596.68M1060.22 589.00V596.68"/>
<text class="t" text-anchor="middle" textLength="31.8" lengthAdjust="spacingAndGlyphs" x="874.40" y="616.90">1980</text>
<text class="t" text-anchor="middle" textLength="31.8" lengthAdjust="spacingAndGlyphs" x="936.34" y="616.90">1990</text>
<text class="t" text-anchor="middle" textLength="31.8" lengthAdjust="spacingAndGlyphs" x="998.28" y="616.90">2000</text>
<text class="t" text-anchor="middle" textLength="31.8" lengthAdjust="spacingAndGlyphs" x="1060.22" y="616.90">2010</text>
<text class="t g" text-anchor="middle" textLength="34.3" lengthAdjust="spacingAndGlyphs" x="998.28" y="352.90">a=10</text>
<polyline class="l" points="880.50,356.87 886.69,381.67 892.89,399.80 899.08,409.67 905.28,419.00 911.47,429.67 917.66,457.67 923.86,480.33 930.05,493.13 936.25,507.53 942.44,559.00 948.63,573.67 954.83,545.67 961.02,528.87 967.22,499.00 973.41,476.33 979.60,464.33 985.80,459.00 991.99,444.33 998.19,451.00 1004.38,479.00 1010.57,485.67 1016.77,503.00 1022.96,515.00 1029.16,507.00 1035.35,499.00 1041.54,484.33 1047.74,479.53 1053.93,496.87 1060.13,495.53 1066.32,531.80 1072.51,457.67 1078.71,411.00 1084.90,381.67 1091.10,393.67 1097.29,429.67 1103.48,465.67"/>
<path class="p" d="M877.45 341.13a3.05 3.05 0 1 0 6.10 0a3.05 3.05 0 1 0 -6.10 0M883.64 377.93a3.05 3.05 0 1 0 6.10 0a3.05 3.05 0 1 0 -6.10 0M889.84 411.00a3.05 3.05 0 1 0 6.10 0a3.05 3.05 0 1 0 -6.10 0M896.03 423.80a3.05 3.05 0 1 0 6.10 0a3.05 3.05 0 1 0 -6.10 0M902.23 423.00a3.05 3.05 0 1 0 6.10 0a3.05 3.05 0 1 0 -6.10 0M908.42 402.73a3.05 3.05 0 1 0 6.10 0a3.05 3.05 0 1 0 -6.10 0M914.61 436.60a3.05 3.05 0 1 0 6.10 0a3.05 3.05 0 1 0 -6.10 0M920.81 500.87a3.05 3.05 0 1 0 6.10 0a3.05 3.05 0 1 0 -6.10 0M927.00 513.93a3.05 3.05 0 1 0 6.10 0a3.05 3.05 0 1 0 -6.10 0M933.20 470.47a3.05 3.05 0 1 0 6.10 0a3.05 3.05 0 1 0 -6.10 0M939.39 579.27a3.05 3.05 0 1 0 6.10 0a3.05 3.05 0 1 0 -6.10 0M945.58 569.67a3.05 3.05 0 1 0 6.10 0a3.05 3.05 0 1 0 -6.10 0M951.78 550.73a3.05 3.05 0 1 0 6.10 0a3.05 3.05 0 1 0 -6.10 0M957.97 524.33a3.05 3.05 0 1 0 6.10 0a3.05 3.05 0 1 0 -6.10 0M964.17 509.67a3.05 3.05 0 1 0 6.10 0a3.05 3.05 0 1 0 -6.10 0M970.36 477.13a3.05 3.05 0 1 0 6.10 0a3.05 3.05 0 1 0 -6.10 0M976.55 443.27a3.05 3.05 0 1 0 6.10 0a3.05 3.05 0 1 0 -6.10 0M982.75 475.53a3.05 3.05 0 1 0 6.10 0a3.05 3.05 0 1 0 -6.10 0M988.94 452.07a3.05 3.05 0 1 0 6.10 0a3.05 3.05 0 1 0 -6.10 0M995.14 452.33a3.05 3.05 0 1 0 6.10 0a3.05 3.05 0 1 0 -6.10 0M1001.33 487.53a3.05 3.05 0 1 0 6.10 0a3.05 3.05 0 1 0 -6.10 0M1007.52 451.27a3.05 3.05 0 1 0 6.10 0a3.05 3.05 0 1 0 -6.10 0M1013.72 529.13a3.05 3.05 0 1 0 6.10 0a3.05 3.05 0 1 0 -6.10 0M1019.91 515.53a3.05 3.05 0 1 0 6.10 0a3.05 3.05 0 1 0 -6.10 0M1026.11 496.33a3.05 3.05 0 1 0 6.10 0a3.05 3.05 0 1 0 -6.10 0M1032.30 515.53a3.05 3.05 0 1 0 6.10 0a3.05 3.05 0 1 0 -6.10 0M1038.49 473.93a3.05 3.05 0 1 0 6.10 0a3.05 3.05 0 1 0 -6.10 0M1044.69 457.13a3.05 3.05 0 1 0 6.10 0a3.05 3.05 0 1 0 -6.10 0M1050.88 501.93a3.05 3.05 0 1 0 6.10 0a3.05 3.05 0 1 0 -6.10 0M1057.08 507.27a3.05 3.05 0 1 0 6.10 0a3.05 3.05 0 1 0 -6.10 0M1063.27 566.47a3.05 3.05 0 1 0 6.10 0a3.05 3.05 0 1 0 -6.10 0M1069.46 446.47a3.05 3.05 0 1 0 6.10 0a3.05 3.05 0 1 0 -6.10 0M1075.66 404.60a3.05 3.05 0 1 0 6.10 0a3.05 3.05 0 1 0 -6.10 0M1081.85 378.47a3.05 3.05 0 1 0 6.10 0a3.05 3.05 0 1 0 -6.10 0M1088.05 396.87a3.05 3.05 0 1 0 6.10 0a3.05 3.05 0 1 0 -6.10 0M1094.24 417.93a3.05 3.05 0 1 0 6.10 0a3.05 3.05 0 1 0 -6.10 0M1100.43 445.93a3.05 3.05 0 1 0 6.10 0a3.05 3.05 0 1 0 -6.10 0"/>
</g>
<g><text text-anchor="middle" textLength="41.7" lengthAdjust="spacingAndGlyphs" x="600.7" y="1178.25" style="font-size:19.4px;stroke-width:0.08px">Year</text></g>
</svg>
</body></html>
